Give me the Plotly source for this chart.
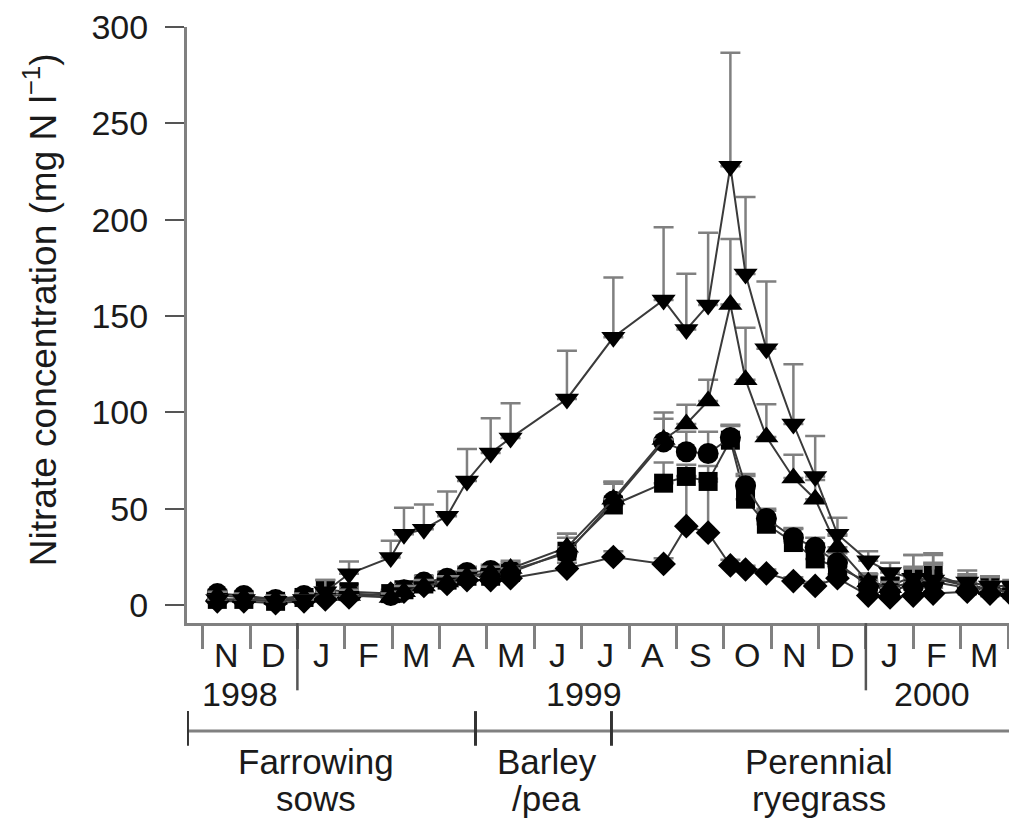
import plotly.graph_objects as go

# sampling dates, in months from 1 Nov 1998 (0 = start of Nov 1998)
t = [0.31, 0.87, 1.54, 2.14, 2.59, 3.09, 3.97, 4.25, 4.67, 5.16, 5.58, 6.08, 6.50, 7.69, 8.67,
     9.73, 10.21, 10.67, 11.14, 11.46, 11.90, 12.47, 12.93, 13.40, 14.05, 14.51, 15.00, 15.42,
     16.14, 16.62, 17.09]

diamond = [2, 2, 1, 2, 3, 4, 6, 7, 10, 11, 13, 13, 14, 19, 25,
           21.4, 41, 37.6, 20.6, 18.5, 16.5, 12.5, 10, 14, 5, 4, 5, 6, 7, 6, 5]
diamond_err = [1, 1, 1, 1, 1, 1, 1, 2, 2, 2, 2, 2, 2, 3, 3,
               3, 26, 28, 3, 2, 2, 2, 2, 2, 2, 2, 3, 3, 2, 2, 2]

square = [3, 3, 2, 4, 8, 7, 6, 8, 11, 13, 15, 15, 17, 28, 52,
          63.3, 66.8, 64.2, 85.6, 55, 42, 32.5, 24, 19.7, 12, 10, 15, 16, 10, 9, 8]
square_err = [2, 2, 2, 3, 5, 4, 2, 3, 3, 3, 3, 3, 3, 9, 12,
              10.7, 6, 8, 8, 12, 7, 7, 8, 5, 4, 4, 11, 11, 6, 5, 4]

circle = [6, 5, 3, 5, 6, 6, 5, 8, 12, 14, 17, 18, 18, 27, 54,
          84.7, 79.6, 78.7, 87, 62, 45, 35, 30, 22, 10, 8, 10, 12, 9, 8, 7]
circle_err = [2, 2, 2, 2, 3, 3, 2, 3, 3, 3, 3, 3, 4, 8, 10,
              12, 10.4, 11.3, 6, 6, 5, 5, 5, 5, 3, 3, 9, 9, 5, 4, 3]

up_tri = [5, 4, 3, 4, 5, 5, 4, 7, 10, 12, 15, 17, 19, 30, 55,
          86, 94, 106, 156, 117, 87.3, 66, 55, 30, 12, 9, 12, 14, 10, 8, 7]
up_tri_err = [2, 2, 2, 2, 3, 3, 2, 3, 3, 3, 3, 3, 4, 7, 8,
              14, 10, 11, 34, 27, 17, 12, 10, 6, 4, 3, 8, 8, 5, 4, 3]

down_tri = [3, 3, 2, 3, 7, 16.3, 24.8, 36.8, 39.4, 46.2, 64.4, 79, 86.7, 107, 139,
            158.4, 143, 155.8, 227.7, 171.8, 133, 94, 66.8, 36.8, 23, 17, 14, 13, 12, 10, 10]
down_tri_err = [1, 1, 1, 2, 6, 6.4, 8.6, 13.7, 12.8, 12.8, 16.6, 18, 18.1, 25, 31,
                37.7, 29, 37.4, 59, 40, 35, 31, 21, 8.5, 5, 5, 12, 13, 6, 5, 3]

series = [
    ("diamond", diamond, diamond_err, 19),
    ("square", square, square_err, 19),
    ("circle", circle, circle_err, 21),
    ("triangle-up", up_tri, up_tri_err, 21),
    ("triangle-down", down_tri, down_tri_err, 21),
]

months = ["N", "D", "J", "F", "M", "A", "M", "J", "J", "A", "S", "O", "N", "D", "J", "F", "M"]
month_bounds = list(range(18))
year_labels = ["1998", "1999", "2000"]
year_pos = [0.78, 8.04, 15.4]
year_bounds = [2, 14]
crop_bounds = [-0.32, 5.76, 8.63]
crop_end = 17.19
crop_line1 = ["Farrowing", "Barley", "Perennial"]
crop_line2 = ["sows", "/pea", "ryegrass"]
crop_label_pos = [2.4, 7.26, 13.0]

FONT = "Liberation Sans, Arial, sans-serif"
TXT = "#1a1a1a"
GRAY = "#808080"

# page body has an 8px margin; the figure is sized so the plot lands where the reference has it
OFF = 8
W, H = 1017 - OFF, 822 - OFF
PLOT_TOP, PLOT_BOTTOM = 21 - OFF, 623 - OFF

fig = go.Figure()
for sym, vals, errs, sz in series:
    fig.add_trace(go.Scatter(
        x=t, y=vals, mode="lines+markers",
        line=dict(color="#3a3a3a", width=2),
        marker=dict(symbol=sym, size=sz, color="black"),
        error_y=dict(type="data", symmetric=False, array=errs, arrayminus=[0] * len(errs),
                     color=GRAY, thickness=2.5, width=10),
        showlegend=False,
    ))

# paper-y from a reference pixel row
def py(p):
    return (PLOT_BOTTOM - (p - OFF)) / (PLOT_BOTTOM - PLOT_TOP)

ann = []
for i, m in enumerate(months):
    ann.append(dict(x=i + 0.5, y=py(655), xref="x", yref="paper", text=m, showarrow=False,
                    font=dict(size=34, family=FONT, color=TXT), yanchor="middle"))
for lbl, pos in zip(year_labels, year_pos):
    ann.append(dict(x=pos, y=py(695), xref="x", yref="paper", text=lbl, showarrow=False,
                    font=dict(size=34, family=FONT, color=TXT), yanchor="middle"))
for l1, l2, pos in zip(crop_line1, crop_line2, crop_label_pos):
    ann.append(dict(x=pos, y=py(763), xref="x", yref="paper", text=l1, showarrow=False,
                    font=dict(size=35, family=FONT, color=TXT), yanchor="middle"))
    ann.append(dict(x=pos, y=py(800), xref="x", yref="paper", text=l2, showarrow=False,
                    font=dict(size=35, family=FONT, color=TXT), yanchor="middle"))
ann.append(dict(x=-0.177, y=0.525, xref="paper", yref="paper",
                text="Nitrate concentration (mg N l<sup>−1</sup>)", textangle=-90,
                showarrow=False, font=dict(size=37, family=FONT, color=TXT),
                xanchor="center", yanchor="middle"))

shapes = []
for yb in year_bounds:
    shapes.append(dict(type="line", xref="x", yref="paper", x0=yb, x1=yb, y0=0, y1=py(691),
                       line=dict(color="#555", width=2.5)))
shapes.append(dict(type="line", xref="x", yref="paper", x0=crop_bounds[0], x1=crop_end,
                   y0=py(732), y1=py(732), line=dict(color=GRAY, width=3)))
for cb in crop_bounds:
    shapes.append(dict(type="line", xref="x", yref="paper", x0=cb, x1=cb,
                       y0=py(712), y1=py(747), line=dict(color="#333", width=3)))

fig.update_layout(
    width=W, height=H,
    margin=dict(l=187 - OFF, r=0, t=PLOT_TOP, b=H - PLOT_BOTTOM),
    paper_bgcolor="white", plot_bgcolor="white",
    annotations=ann, shapes=shapes,
    xaxis=dict(range=[-0.33, 17.19], tickvals=month_bounds, showticklabels=False,
               ticks="outside", ticklen=23, tickwidth=2.5, tickcolor=GRAY,
               showline=True, linecolor=GRAY, linewidth=3, showgrid=False, zeroline=False),
    yaxis=dict(range=[-9.25, 300], tickvals=[0, 50, 100, 150, 200, 250, 300],
               ticks="outside", ticklen=19, tickwidth=2, tickcolor="#555",
               ticklabelstandoff=10, ticklabeloverflow="allow",
               tickfont=dict(size=34, family=FONT, color=TXT),
               showline=True, linecolor=GRAY, linewidth=3, showgrid=False, zeroline=False),
)

fig.write_html("out.html")
